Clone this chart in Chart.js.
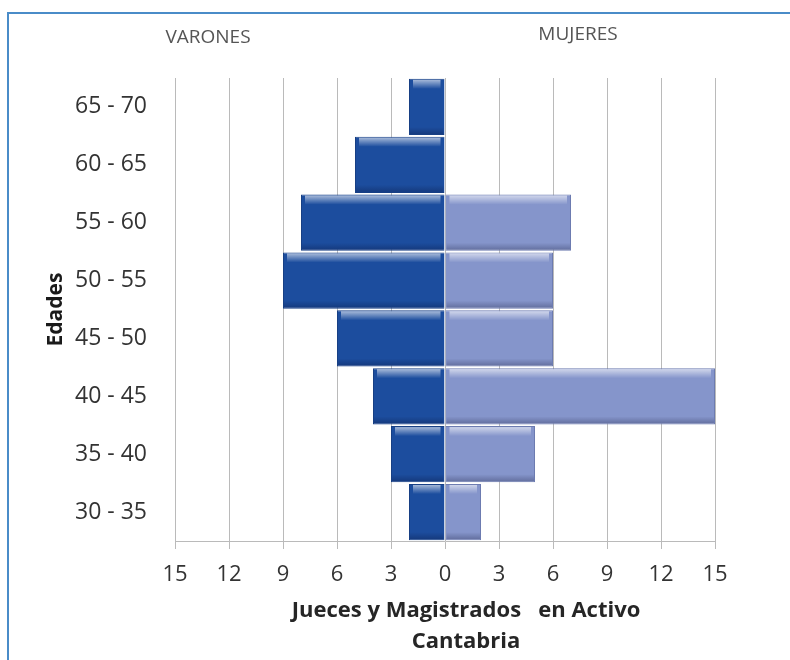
<!DOCTYPE html>
<html>
<head>
<meta charset="utf-8">
<title>Jueces y Magistrados en Activo - Cantabria</title>
<script src="https://cdn.jsdelivr.net/npm/chart.js@4/dist/chart.umd.min.js"></script>
<style>
  html, body { margin: 0; padding: 0; background: #fff; }
  #pyramid { display: block; }
</style>
</head>
<body>
<canvas id="pyramid" width="790" height="660"></canvas>
<script>
// age groups, top to bottom
const ageGroups = ['65 - 70', '60 - 65', '55 - 60', '50 - 55', '45 - 50', '40 - 45', '35 - 40', '30 - 35'];
const varones = [2, 5, 8, 9, 6, 4, 3, 2];
const mujeres = [0, 0, 7, 6, 6, 15, 5, 2];
const xTicks = [-15, -12, -9, -6, -3, 0, 3, 6, 9, 12, 15];

const FONT = "'Open Sans', 'DejaVu Sans', sans-serif";

// frame, side headings and the two-line axis title
const decorations = {
	id: 'decorations',
	beforeDraw(chart) {
		const ctx = chart.ctx;
		ctx.save();
		ctx.strokeStyle = '#4a8cc8';
		ctx.lineWidth = 2;
		ctx.beginPath();
		ctx.moveTo(8, 660);
		ctx.lineTo(8, 13);
		ctx.lineTo(790, 13);
		ctx.stroke();
		ctx.restore();
	},
	afterDraw(chart) {
		const ctx = chart.ctx;
		ctx.save();
		ctx.textAlign = 'center';
		ctx.textBaseline = 'middle';
		ctx.fillStyle = '#555';
		ctx.font = '19px ' + FONT;
		ctx.fillText('VARONES', 208, 38);
		ctx.fillText('MUJERES', 578, 35);
		ctx.fillStyle = '#262626';
		ctx.font = 'bold 22px ' + FONT;
		ctx.fillText('Jueces y Magistrados   en Activo', 466, 611);
		ctx.fillText('Cantabria', 466, 642);
		ctx.restore();
	},
};

// bevel look on each bar: light strip on top, shade at the bottom
const bevel = {
	id: 'bevel',
	afterDatasetsDraw(chart) {
		const ctx = chart.ctx;
		chart.data.datasets.forEach((ds, i) => {
			const meta = chart.getDatasetMeta(i);
			meta.data.forEach((bar) => {
				const left = Math.min(bar.x, bar.base);
				const right = Math.max(bar.x, bar.base);
				const w = right - left;
				if (w < 2) return;
				const top = bar.y - bar.height / 2;
				const bottom = bar.y + bar.height / 2;
				ctx.save();
				let g = ctx.createLinearGradient(0, top + 1, 0, top + 10);
				g.addColorStop(0, 'rgba(255,255,255,0.6)');
				g.addColorStop(1, 'rgba(255,255,255,0)');
				ctx.fillStyle = g;
				ctx.fillRect(left + 4, top + 1, w - 8, 9);
				g = ctx.createLinearGradient(0, bottom - 8, 0, bottom);
				g.addColorStop(0, 'rgba(0,0,30,0)');
				g.addColorStop(1, 'rgba(0,0,30,0.28)');
				ctx.fillStyle = g;
				ctx.fillRect(left + 1, bottom - 8, w - 2, 7);
				ctx.restore();
			});
		});
	},
};

new Chart(document.getElementById('pyramid'), {
	type: 'bar',
	data: {
		labels: ageGroups,
		datasets: [
			{
				label: 'Varones',
				data: varones.map((v) => -v),
				backgroundColor: '#1c4d9e',
				borderColor: '#173f84',
				borderWidth: 1,
				barPercentage: 0.97,
				categoryPercentage: 1,
			},
			{
				label: 'Mujeres',
				data: mujeres,
				backgroundColor: '#8595cb',
				borderColor: '#6c7bb0',
				borderWidth: 1,
				barPercentage: 0.97,
				categoryPercentage: 1,
			},
		],
	},
	options: {
		indexAxis: 'y',
		responsive: false,
		animation: false,
		layout: { padding: { top: 78, right: 75, left: 0, bottom: 0 } },
		plugins: {
			legend: { display: false },
			tooltip: { enabled: false },
		},
		scales: {
			x: {
				type: 'linear',
				min: -15,
				max: 15,
				stacked: true,
				afterBuildTicks: (scale) => {
					scale.ticks = xTicks.map((v) => ({ value: v }));
				},
				afterFit: (scale) => {
					scale.height = 119;
				},
				ticks: {
					callback: (v) => Math.abs(v),
					color: '#333',
					font: { family: FONT, size: 22 },
					padding: 13,
				},
				grid: { color: '#bababa', tickLength: 8 },
				border: { color: '#bababa' },
			},
			y: {
				stacked: true,
				afterFit: (scale) => {
					scale.width = 175;
				},
				grid: { display: false, drawTicks: false },
				border: { display: false },
				ticks: {
					color: '#333',
					font: { family: FONT, size: 23 },
					padding: 28,
				},
				title: {
					display: true,
					text: 'Edades',
					color: '#1a1a1a',
					font: { family: FONT, size: 21, weight: 'bold' },
					padding: { top: 43, bottom: 0 },
				},
			},
		},
	},
	plugins: [decorations, bevel],
});
</script>
</body>
</html>
